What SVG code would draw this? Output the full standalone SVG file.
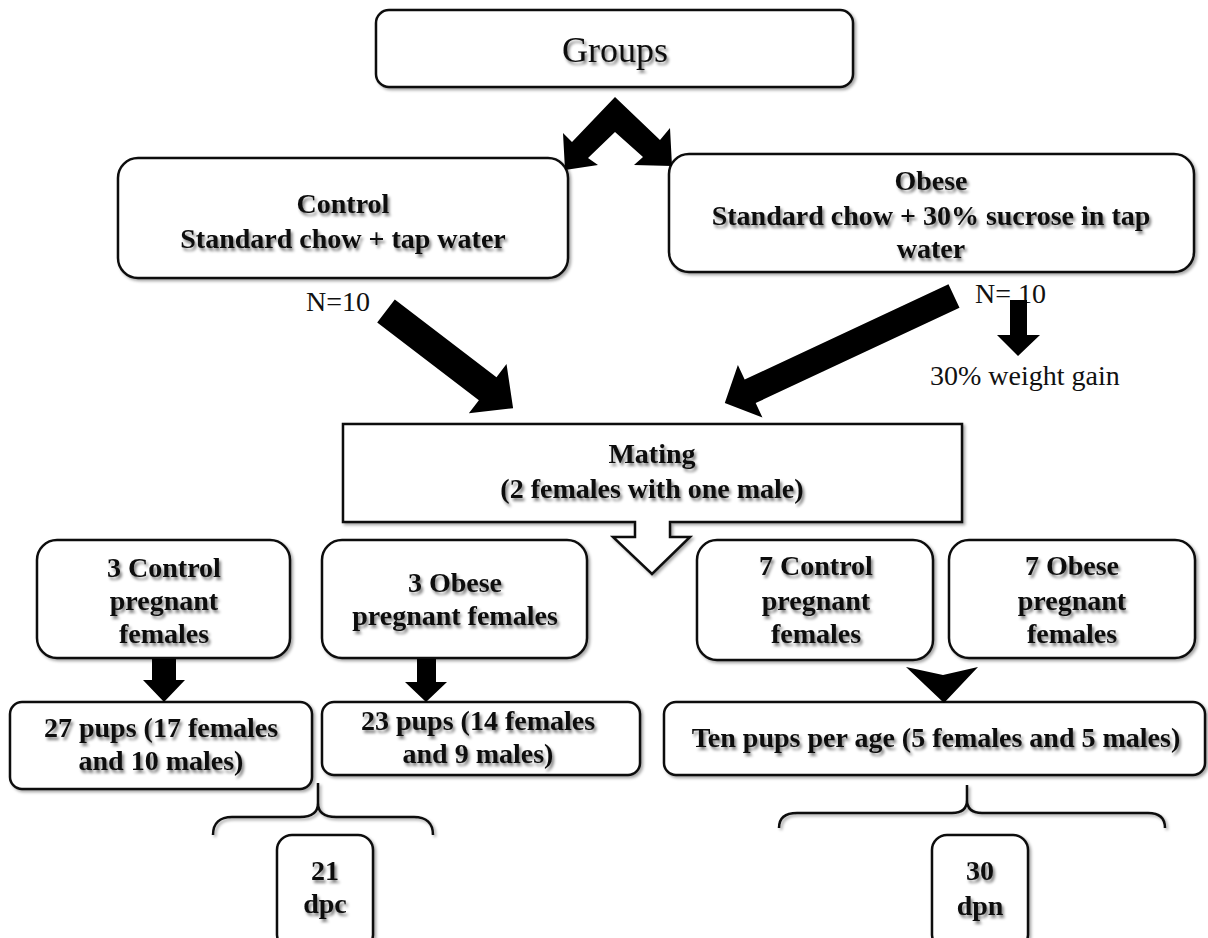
<svg xmlns="http://www.w3.org/2000/svg" width="1208" height="938" viewBox="0 0 1208 938">
<defs>
<filter id="ts" x="-10%" y="-40%" width="125%" height="180%">
<feGaussianBlur in="SourceAlpha" stdDeviation="1.6"/>
<feOffset dx="2" dy="3" result="b"/>
<feComponentTransfer><feFuncA type="linear" slope="0.5"/></feComponentTransfer>
<feMerge><feMergeNode/><feMergeNode in="SourceGraphic"/></feMerge>
</filter>
<filter id="bs" x="-5%" y="-10%" width="112%" height="125%">
<feDropShadow dx="2" dy="2" stdDeviation="1.8" flood-color="#000" flood-opacity="0.35"/>
</filter>
<style>
.box{fill:#fff;stroke:#111;stroke-width:2.5;filter:url(#bs)}
.t{font-family:"Liberation Serif","Times New Roman",serif;font-size:28px;font-weight:bold;fill:#111;text-anchor:middle;filter:url(#ts)}
.r{font-family:"Liberation Serif","Times New Roman",serif;font-size:27px;fill:#111}
.arr{fill:#000}
.br{fill:none;stroke:#111;stroke-width:2.5;filter:url(#bs)}
</style>
</defs>
<rect width="1208" height="938" fill="#fff"/>

<g id="groups">
<rect class="box" x="376" y="10" width="477" height="77" rx="13"/>
<text class="t" x="615" y="62" style="font-size:36px;font-weight:normal">Groups</text>
</g>

<g id="control">
<rect class="box" x="118" y="158" width="450" height="120" rx="20"/>
<text class="t" x="343" y="213">Control</text>
<text class="t" x="343" y="248">Standard chow + tap water</text>
</g>

<g id="obese">
<rect class="box" x="669" y="154" width="525" height="118" rx="20"/>
<text class="t" x="931" y="190">Obese</text>
<text class="t" x="931" y="225">Standard chow + 30% sucrose in tap</text>
<text class="t" x="931" y="258">water</text>
</g>

<g id="label-n-control">
<text class="r" x="306" y="311" style="font-size:28px">N=10</text>
</g>
<g id="label-n-obese">
<text class="r" x="975" y="303" style="font-size:28px">N= 10</text>
</g>
<g id="label-weight">
<text class="r" x="930" y="385" style="font-size:28px">30% weight gain</text>
</g>

<g id="mating">
<path class="box" d="M343,424 H962 V522 H670 V537 H690 L652,574 L613,537 H635 V522 H343 Z" stroke-linejoin="miter"/>
<text class="t" x="652" y="463">Mating</text>
<text class="t" x="652" y="498">(2 females with one male)</text>
</g>

<g id="control3">
<rect class="box" x="37" y="540" width="253" height="118" rx="20"/>
<text class="t" x="164" y="577">3 Control</text>
<text class="t" x="164" y="610">pregnant</text>
<text class="t" x="164" y="643">females</text>
</g>

<g id="obese3">
<rect class="box" x="322" y="540" width="265" height="118" rx="20"/>
<text class="t" x="455" y="592">3 Obese</text>
<text class="t" x="455" y="625">pregnant females</text>
</g>

<g id="control7">
<rect class="box" x="697" y="540" width="236" height="120" rx="20"/>
<text class="t" x="816" y="575">7 Control</text>
<text class="t" x="816" y="610">pregnant</text>
<text class="t" x="816" y="643">females</text>
</g>

<g id="obese7">
<rect class="box" x="949" y="540" width="246" height="118" rx="20"/>
<text class="t" x="1072" y="575">7 Obese</text>
<text class="t" x="1072" y="610">pregnant</text>
<text class="t" x="1072" y="643">females</text>
</g>

<g id="pups27">
<rect class="box" x="10" y="702" width="302" height="87" rx="12"/>
<text class="t" x="161" y="737">27 pups (17 females</text>
<text class="t" x="161" y="770">and 10 males)</text>
</g>

<g id="pups23">
<rect class="box" x="322" y="702" width="318" height="73" rx="12"/>
<text class="t" x="478" y="730">23 pups (14 females</text>
<text class="t" x="478" y="763">and 9 males)</text>
</g>

<g id="pups10">
<rect class="box" x="664" y="702" width="541" height="73" rx="12"/>
<text class="t" x="936" y="747">Ten pups per age (5 females and 5 males)</text>
</g>

<g id="dpc21">
<rect class="box" x="277" y="835" width="96" height="115" rx="15"/>
<text class="t" x="325" y="880">21</text>
<text class="t" x="325" y="913">dpc</text>
</g>

<g id="dpn30">
<rect class="box" x="932" y="835" width="96" height="115" rx="15"/>
<text class="t" x="980" y="880">30</text>
<text class="t" x="980" y="915">dpn</text>
</g>

<g id="connectors">
<polygon class="arr" points="615,97 660,140 670,128 672,166 634,165 643,157 615,132 588,158 598,165 565,170 563,133 572,142"/>
<polygon class="arr" transform="translate(386,311) rotate(37.4)" points="0,-14.5 128,-14.5 128,-31 160,0 128,31 128,14.5 0,14.5"/>
<polygon class="arr" transform="translate(954,296) rotate(154.95)" points="0,-13 225,-13 225,-29 253,0 225,29 225,13 0,13"/>
<polygon class="arr" points="1010,300 1027,300 1027,335 1040,335 1018,356 997,335 1010,335"/>
<polygon class="arr" points="152,659 176,659 176,680 185,680 164,702 143,680 152,680"/>
<polygon class="arr" points="417,659 436,659 436,682 447,682 426,702 405,682 417,682"/>
<polygon class="arr" points="906,667 943,675 978,667 944,703"/>
<path class="br" d="M213,835 C213,823 220,817 232,817 H300 C312,817 318,812 318,803 V783 M318,803 C318,812 324,817 336,817 H414 C426,817 433,823 433,835"/>
<path class="br" d="M779,828 C779,818 785,813 797,813 H952 C961,813 967,809 967,800 V785 M967,800 C967,809 973,813 982,813 H1148 C1159,813 1165,818 1165,828"/>
</g>
</svg>
